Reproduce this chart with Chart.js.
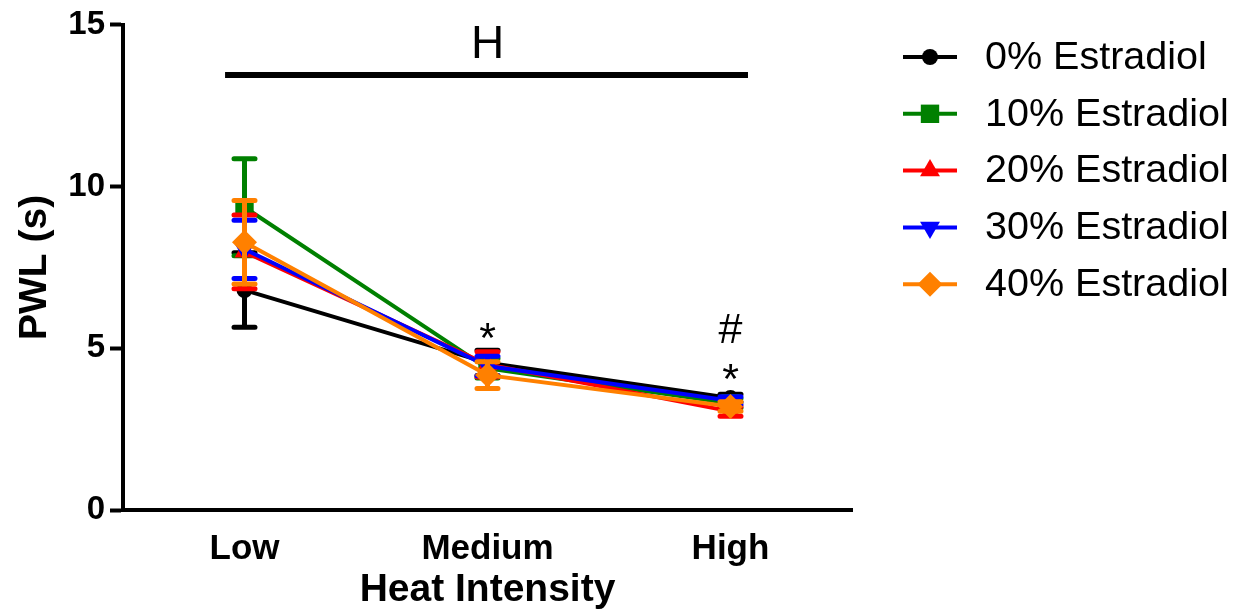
<!DOCTYPE html>
<html>
<head>
<meta charset="utf-8">
<script src="https://cdn.jsdelivr.net/npm/chart.js@4/dist/chart.umd.min.js"></script>
<style>
  html, body { margin: 0; padding: 0; background: #fff; }
  #wrap { width: 1243px; height: 613px; }
</style>
</head>
<body>
<div id="wrap"><canvas id="c" width="1243" height="613"></canvas></div>
<script>
// ---------- data ----------
const categories = ['Low', 'Medium', 'High'];
const seriesNames = ['0% Estradiol', '10% Estradiol', '20% Estradiol', '30% Estradiol', '40% Estradiol'];
const mean0  = [6.80, 4.55, 3.46];
const err0   = [1.15, 0.39, 0.12];
const mean10 = [9.36, 4.38, 3.30];
const err10  = [1.50, 0.30, 0.15];
const mean20 = [7.98, 4.50, 3.05];
const err20  = [1.14, 0.39, 0.15];
const mean30 = [8.06, 4.45, 3.38];
const err30  = [0.90, 0.30, 0.12];
const mean40 = [8.28, 4.17, 3.20];
const err40  = [1.29, 0.41, 0.15];
const yTicks = [0, 5, 10, 15];
// significance marks: [text, category index, y value (baseline)]
const sigMarks = [['*', 1, 4.88], ['#', 2, 5.15], ['*', 2, 3.61]];
const hLabel = 'H';
const hBar = { from: -0.08, to: 2.072, y: 13.45, labelY: 13.98 };

// ---------- styles ----------
const colors = ['#000000', '#008000', '#ff0000', '#0000ff', '#ff8000'];
const pStyles = ['circle', 'rect', 'triangle', 'triangle', 'rectRot'];
const pRadius = [8, 13, 11.5, 11.5, 12.5];
const pRotation = [0, 0, 0, 180, 0];
const means = [mean0, mean10, mean20, mean30, mean40];
const errs = [err0, err10, err20, err30, err40];
const FONT = '"Liberation Sans", Arial, Helvetica, sans-serif';

function markerPath(ctx, style, x, y, r, rotDeg) {
  let rad = rotDeg * Math.PI / 180;
  ctx.beginPath();
  if (style === 'circle') {
    ctx.arc(x, y, r, 0, Math.PI * 2);
  } else if (style === 'rect') {
    const s = Math.SQRT1_2 * r;
    ctx.rect(x - s, y - s, 2 * s, 2 * s);
  } else if (style === 'triangle') {
    ctx.moveTo(x + Math.sin(rad) * r, y - Math.cos(rad) * r);
    rad += 2 * Math.PI / 3;
    ctx.lineTo(x + Math.sin(rad) * r, y - Math.cos(rad) * r);
    rad += 2 * Math.PI / 3;
    ctx.lineTo(x + Math.sin(rad) * r, y - Math.cos(rad) * r);
    ctx.closePath();
  } else if (style === 'rectRot') {
    ctx.moveTo(x - r, y); ctx.lineTo(x, y - r); ctx.lineTo(x + r, y); ctx.lineTo(x, y + r);
    ctx.closePath();
  }
}

const errorBarPlugin = {
  id: 'errorBars',
  beforeDatasetDraw(chart, args) {
    const i = args.index;
    const meta = args.meta;
    const ys = chart.scales.y;
    const ctx = chart.ctx;
    ctx.save();
    ctx.strokeStyle = colors[i];
    ctx.lineWidth = 5;
    ctx.lineCap = 'round';
    meta.data.forEach((pt, j) => {
      const m = means[i][j], e = errs[i][j];
      const x = pt.x;
      const yTop = ys.getPixelForValue(m + e);
      const yBot = ys.getPixelForValue(m - e);
      ctx.beginPath();
      ctx.moveTo(x, yTop); ctx.lineTo(x, yBot);
      ctx.moveTo(x - 10.5, yTop); ctx.lineTo(x + 10.5, yTop);
      ctx.moveTo(x - 10.5, yBot); ctx.lineTo(x + 10.5, yBot);
      ctx.stroke();
    });
    ctx.restore();
  }
};

const annotationPlugin = {
  id: 'annotations',
  afterDatasetsDraw(chart) {
    const ctx = chart.ctx;
    const xs = chart.scales.x, ys = chart.scales.y;
    ctx.save();
    // H bar
    ctx.strokeStyle = '#000';
    ctx.lineWidth = 6;
    ctx.beginPath();
    const by = ys.getPixelForValue(hBar.y);
    ctx.moveTo(xs.getPixelForValue(hBar.from), by);
    ctx.lineTo(xs.getPixelForValue(hBar.to), by);
    ctx.stroke();
    ctx.fillStyle = '#000';
    ctx.textAlign = 'center';
    ctx.textBaseline = 'alphabetic';
    ctx.font = '46px ' + FONT;
    ctx.fillText(hLabel, xs.getPixelForValue(1), ys.getPixelForValue(hBar.labelY));
    ctx.font = '43px ' + FONT;
    sigMarks.forEach(([t, ci, v]) => {
      ctx.fillText(t, xs.getPixelForValue(ci), ys.getPixelForValue(v));
    });
    ctx.restore();
  },
  afterDraw(chart) {
    const ctx = chart.ctx;
    ctx.save();
    const y0 = 57, step = 56.8;
    chart.data.datasets.forEach((ds, i) => {
      const y = y0 + i * step;
      ctx.strokeStyle = colors[i];
      ctx.lineWidth = 4;
      ctx.beginPath();
      ctx.moveTo(903, y); ctx.lineTo(957, y);
      ctx.stroke();
      ctx.fillStyle = colors[i];
      markerPath(ctx, pStyles[i], 930, y, pRadius[i], pRotation[i]);
      ctx.fill();
      ctx.fillStyle = '#000';
      ctx.font = '39.5px ' + FONT;
      ctx.textAlign = 'left';
      ctx.textBaseline = 'middle';
      ctx.fillText(ds.label, 985, y + 1);
    });
    ctx.restore();
  }
};

const datasets = seriesNames.map((name, i) => ({
  label: name,
  data: means[i],
  borderColor: colors[i],
  backgroundColor: colors[i],
  borderWidth: 4,
  pointStyle: pStyles[i],
  pointRadius: pRadius[i],
  pointHoverRadius: pRadius[i],
  pointRotation: pRotation[i],
  pointBorderWidth: 0,
  pointBackgroundColor: colors[i],
  pointBorderColor: colors[i],
  tension: 0,
  fill: false,
  order: seriesNames.length - 1 - i,
  clip: false
}));

new Chart(document.getElementById('c'), {
  type: 'line',
  data: { labels: categories, datasets },
  options: {
    responsive: false,
    animation: false,
    events: [],
    layout: { padding: { top: 24, right: 391, left: 0, bottom: 0 } },
    plugins: { legend: { display: false }, tooltip: { enabled: false } },
    scales: {
      x: {
        type: 'category',
        offset: true,
        grid: { display: false, drawTicks: false, drawOnChartArea: false },
        border: { display: true, color: '#000', width: 4 },
        ticks: { color: '#000', padding: 18, font: { family: FONT, size: 35, weight: 'bold' }, maxRotation: 0 },
        title: { display: true, text: 'Heat Intensity', color: '#000', padding: { top: 0, bottom: 0 },
                 font: { family: FONT, size: 39, weight: 'bold', lineHeight: 1.15 } },
        afterFit(scale) { scale.height = 103; }
      },
      y: {
        min: 0, max: 15,
        afterBuildTicks(scale) { scale.ticks = yTicks.map(v => ({ value: v })); },
        grid: { display: true, drawOnChartArea: false, drawTicks: true, tickLength: 13, tickWidth: 4, tickColor: '#000', color: '#000' },
        border: { display: true, color: '#000', width: 4 },
        ticks: { color: '#000', padding: 5, font: { family: FONT, size: 33, weight: 'bold' } },
        title: { display: true, text: 'PWL (s)', color: '#000', padding: { top: 12, bottom: 0 },
                 font: { family: FONT, size: 39, weight: 'bold', lineHeight: 1.2 } },
        afterFit(scale) { scale.width = 123; }
      }
    }
  },
  plugins: [errorBarPlugin, annotationPlugin]
});
</script>
</body>
</html>
